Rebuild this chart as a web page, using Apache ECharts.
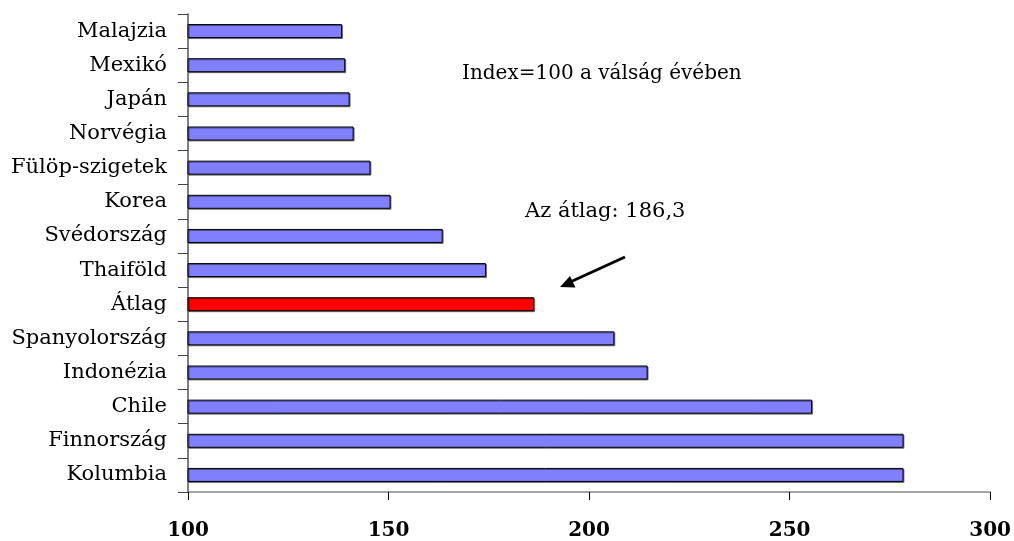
<!DOCTYPE html>
<html>
<head>
<meta charset="utf-8">
<script src="https://cdn.jsdelivr.net/npm/echarts@6/dist/echarts.min.js"></script>
<style>html,body{margin:0;padding:0;background:#fff;}#c{width:1014px;height:541px;}</style>
</head>
<body>
<div id="c"></div>
<script>
// Categories listed top to bottom
const categories = ['Malajzia','Mexikó','Japán','Norvégia','Fülöp-szigetek','Korea','Svédország','Thaiföld','Átlag','Spanyolország','Indonézia','Chile','Finnország','Kolumbia'];
const values = [138.4,139.2,140.3,141.3,145.5,150.5,163.5,174.3,186.3,206.3,214.6,255.6,278.4,278.4];
const highlightCategory = 'Átlag';
const xTicks = [100,150,200,250,300];
const noteText = 'Index=100 a válság évében';
const avgText = 'Az átlag: 186,3';

const serif = '"DejaVu Serif", "Liberation Serif", serif';
const chart = echarts.init(document.getElementById('c'));
chart.setOption({
  animation: false,
  grid: {left: 188, right: 22, top: 14, bottom: 48, containLabel: false},
  xAxis: {
    type: 'value', min: xTicks[0], max: xTicks[xTicks.length-1], interval: 50,
    splitLine: {show: false},
    axisLine: {show: true, lineStyle: {color: '#888', width: 1.5}},
    axisTick: {show: true, length: 8, lineStyle: {color: '#000'}},
    axisLabel: {margin: 29, color: '#000', fontFamily: serif, fontWeight: 'bold', fontSize: 20}
  },
  yAxis: {
    type: 'category', data: categories, inverse: true,
    axisLine: {show: true, lineStyle: {color: '#555', width: 1.5}},
    axisTick: {show: true, length: 10, lineStyle: {color: '#444'}},
    axisLabel: {margin: 21, color: '#000', fontFamily: serif, fontSize: 21}
  },
  series: [{
    type: 'bar', barWidth: 14,
    data: values.map((v, i) => ({
      value: v,
      itemStyle: {color: categories[i] === highlightCategory ? '#ff0000' : '#8080ff'}
    })),
    itemStyle: {borderColor: '#000', borderWidth: 1, shadowColor: 'rgba(0,0,0,0.45)', shadowOffsetX: 1, shadowOffsetY: 1, shadowBlur: 0}
  }],
  graphic: [
    {type: 'text', left: 462, top: 64, style: {text: noteText, font: '20px ' + serif, fill: '#000'}},
    {type: 'text', left: 525, top: 201, style: {text: avgText, font: '21px ' + serif, fill: '#000'}},
    {type: 'line', shape: {x1: 625, y1: 257, x2: 568, y2: 283}, style: {stroke: '#000', lineWidth: 3}},
    {type: 'polygon', shape: {points: [[560,287],[575.5,287.5],[570,276]]}, style: {fill: '#000'}}
  ]
});
</script>
</body>
</html>
